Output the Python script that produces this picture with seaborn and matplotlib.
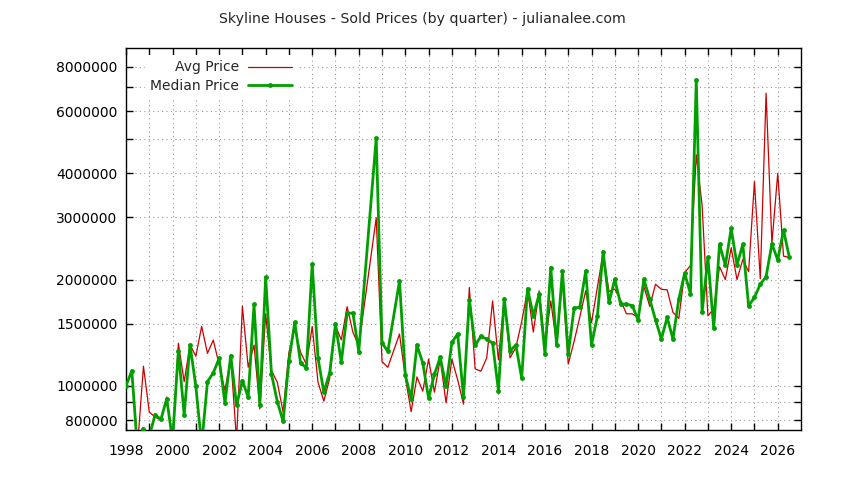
import numpy as np
import pandas as pd
import seaborn as sns
import matplotlib.pyplot as plt
from matplotlib.ticker import NullLocator

# quarterly prices in thousands, one row per year (Q1..Q4), None = no sales that quarter
first_year = 1998

avg_price_k = [
    1000, 1100, 680, 1137,    # 1998
    843, 816, 800, 930,       # 1999
    700, 1320, 1028, 1308,    # 2000
    1213, 1473, 1236, 1348,   # 2001
    1150, 970, 1200, 700,     # 2002
    1680, 1130, 1305, 861,    # 2003
    1597, 1104, 1024, 843,    # 2004
    1245, 1448, 1245, 1150,   # 2005
    1473, 1024, 905, 1050,    # 2006
    1480, 1350, 1675, 1417,   # 2007
    1300, None, None, 2990,   # 2008
    1171, 1129, None, 1402,   # 2009
    1058, 845, 1060, 966,     # 2010
    1190, 960, 1190, 895,     # 2011
    1190, 1040, 888, 1900,    # 2012
    1117, 1100, 1202, 1740,   # 2013
    1185, 1766, 1200, 1285,   # 2014
    1520, 1870, 1420, 1858,   # 2015
    1300, 1740, 1310, 2000,   # 2016
    1153, 1335, 1570, 1858,   # 2017
    1510, 1900, 2380, 1850,   # 2018
    1880, 1750, 1600, 1600,   # 2019
    1560, 1910, 1680, 1940,   # 2020
    1877, 1870, 1614, 1553,   # 2021
    2090, 2190, 4510, 3250,   # 2022
    1579, 1650, 2175, 2000,   # 2023
    2460, 2000, 2280, 2105,   # 2024
    3790, 2010, 6740, 2530,   # 2025
    3995, 2330, 2310,         # 2026
]

median_price_k = [
    1000, 1104, 650, 757,     # 1998
    720, 828, 804, 919,       # 1999
    700, 1258, 828, 1308,     # 2000
    998, 680, 1028, 1088,     # 2001
    1197, 894, 1218, 880,     # 2002
    1035, 929, 1700, 884,     # 2003
    2030, 1081, 903, 793,     # 2004
    1179, 1513, 1161, 1124,   # 2005
    2210, 1197, 960, 1088,    # 2006
    1496, 1166, 1607, 1607,   # 2007
    1250, None, None, 5030,   # 2008
    1322, 1253, None, 1980,   # 2009
    1074, 919, 1305, 1161,    # 2010
    923, 1078, 1205, 998,     # 2011
    1328, 1402, 929, 1750,    # 2012
    1305, 1380, 1357, 1320,   # 2013
    970, 1766, 1258, 1305,    # 2014
    1051, 1886, 1579, 1818,   # 2015
    1231, 2163, 1305, 2115,   # 2016
    1231, 1657, 1674, 2115,   # 2017
    1305, 1572, 2400, 1723,   # 2018
    2003, 1704, 1704, 1687,   # 2019
    1538, 2003, 1760, 1538,   # 2020
    1357, 1562, 1357, 1760,   # 2021
    2083, 1826, 7350, 1614,   # 2022
    2310, 1455, 2516, 2194,   # 2023
    2790, 2200, 2516, 1685,   # 2024
    1780, 1940, 2036, 2525,   # 2025
    2273, 2757, 2310,         # 2026
]

y_ticks = [800000, 900000, 1000000, 1500000, 2000000, 3000000,
           4000000, 5000000, 6000000, 7000000, 8000000]
y_tick_labels = ["800000", "", "1000000", "1500000", "2000000", "3000000",
                 "4000000", "", "6000000", "", "8000000"]
x_ticks = list(range(1998, 2027))
x_tick_labels = [str(y) if y % 2 == 0 else "" for y in x_ticks]


def to_frame(values):
    price = np.array(values, dtype=float) * 1000
    year = first_year + np.arange(len(price)) / 4
    return pd.DataFrame({"year": year, "price": price}).dropna()


sns.set_style("ticks")
plt.rcParams["font.family"] = ["DejaVu Sans"]

fig = plt.figure(figsize=(8.44, 4.8), dpi=100)
ax = fig.add_axes([126 / 844, 50 / 480, 675 / 844, 382 / 480])

avg = to_frame(avg_price_k)
med = to_frame(median_price_k)

sns.lineplot(data=avg, x="year", y="price", ax=ax, color="#cc0000",
             linewidth=0.9, label="Avg Price", zorder=3)
sns.lineplot(data=med, x="year", y="price", ax=ax, color="#00a000",
             linewidth=2.0, marker="o", markersize=3.5, markeredgewidth=0,
             label="Median Price", zorder=4)

ax.set_yscale("log")
ax.set_ylim(750000, 9050000)
ax.set_xlim(1998, 2027)
ax.set_yticks(y_ticks, y_tick_labels)
ax.yaxis.set_minor_locator(NullLocator())
ax.set_xticks(x_ticks, x_tick_labels)
ax.set_xlabel("")
ax.set_ylabel("")

ax.set_axisbelow(True)
ax.grid(True, color="#999999", linestyle=(0, (1, 3)), linewidth=0.8)
for s in ax.spines.values():
    s.set_visible(True)
    s.set_color("black")
    s.set_linewidth(1)

ax.tick_params(direction="in", length=5, width=1, top=True, right=True,
               labelsize=10, colors="black")
ax.tick_params(axis="x", pad=10)
ax.tick_params(axis="y", pad=6)

ax.legend(loc="upper left", bbox_to_anchor=(0.028, 0.982), borderaxespad=0,
          markerfirst=False, frameon=True, facecolor="white", edgecolor="none",
          framealpha=1, fancybox=False, handlelength=3.2, handletextpad=0.6,
          labelspacing=0.3, fontsize=10)

fig.text(0.5, 1 - 19 / 480, "Skyline Houses - Sold Prices (by quarter) - julianalee.com",
         ha="center", va="center", fontsize=10.2)

fig.savefig("out.png", dpi=100)
